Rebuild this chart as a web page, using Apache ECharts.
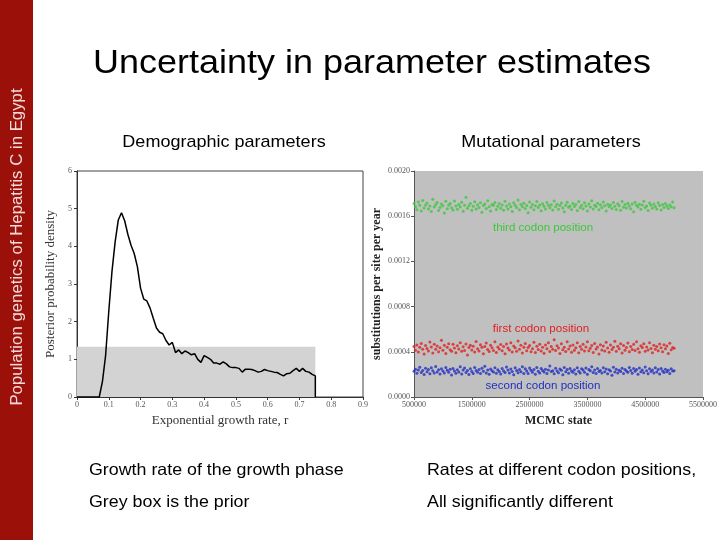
<!DOCTYPE html>
<html><head><meta charset="utf-8">
<script src="https://cdn.jsdelivr.net/npm/echarts@6/dist/echarts.min.js"></script>
<style>html,body{margin:0;padding:0;background:#fff}#c{width:720px;height:540px}</style>
</head><body><div id="c"></div>
<script>
// ---- Demographic parameters: posterior density of growth rate r ----
const growthRate = [0,0.02,0.04,0.06,0.07,0.08,0.09,0.10,0.11,0.12,0.13,0.14,0.15,0.16,0.17,0.18,0.19,0.20,0.21,0.22,0.23,0.24,0.25,0.26,0.27,0.28,0.29,0.295,0.30,0.31,0.32,0.33,0.34,0.35,0.36,0.37,0.38,0.39,0.40,0.41,0.42,0.43,0.44,0.45,0.46,0.47,0.48,0.49,0.50,0.51,0.52,0.53,0.54,0.55,0.56,0.57,0.58,0.59,0.60,0.61,0.62,0.63,0.64,0.65,0.66,0.67,0.68,0.69,0.70,0.71,0.72,0.73,0.74,0.75,0.75];
const posteriorDensity = [0,0,0,0,0,0.41,1.1,2.27,3.33,4.12,4.7,4.89,4.68,4.32,4.03,3.81,3.46,2.89,2.6,2.55,2.36,2.09,1.83,1.72,1.68,1.5,1.38,1.42,1.45,1.18,1.25,1.15,1.22,1.18,1.12,1.15,1.0,0.92,1.1,1.05,1.0,0.9,0.9,0.87,0.93,0.88,0.8,0.78,0.78,0.76,0.66,0.74,0.74,0.73,0.7,0.66,0.68,0.73,0.7,0.68,0.66,0.65,0.6,0.56,0.62,0.63,0.7,0.76,0.68,0.76,0.68,0.66,0.6,0.56,0];
const priorMaxR = 0.75;
const priorDensity = 1.3333;
const rTicks = ['0','0.1','0.2','0.3','0.4','0.5','0.6','0.7','0.8','0.9'];

// ---- Mutational parameters: MCMC traces (rates in units of 1e-6 subst/site/yr) ----
const mcmcState = [
500000,525000,550000,575000,600000,625000,650000,675000,
700000,725000,750000,775000,800000,825000,850000,875000,
900000,925000,950000,975000,1000000,1025000,1050000,1075000,
1100000,1125000,1150000,1175000,1200000,1225000,1250000,1275000,
1300000,1325000,1350000,1375000,1400000,1425000,1450000,1475000,
1500000,1525000,1550000,1575000,1600000,1625000,1650000,1675000,
1700000,1725000,1750000,1775000,1800000,1825000,1850000,1875000,
1900000,1925000,1950000,1975000,2000000,2025000,2050000,2075000,
2100000,2125000,2150000,2175000,2200000,2225000,2250000,2275000,
2300000,2325000,2350000,2375000,2400000,2425000,2450000,2475000,
2500000,2525000,2550000,2575000,2600000,2625000,2650000,2675000,
2700000,2725000,2750000,2775000,2800000,2825000,2850000,2875000,
2900000,2925000,2950000,2975000,3000000,3025000,3050000,3075000,
3100000,3125000,3150000,3175000,3200000,3225000,3250000,3275000,
3300000,3325000,3350000,3375000,3400000,3425000,3450000,3475000,
3500000,3525000,3550000,3575000,3600000,3625000,3650000,3675000,
3700000,3725000,3750000,3775000,3800000,3825000,3850000,3875000,
3900000,3925000,3950000,3975000,4000000,4025000,4050000,4075000,
4100000,4125000,4150000,4175000,4200000,4225000,4250000,4275000,
4300000,4325000,4350000,4375000,4400000,4425000,4450000,4475000,
4500000,4525000,4550000,4575000,4600000,4625000,4650000,4675000,
4700000,4725000,4750000,4775000,4800000,4825000,4850000,4875000,
4900000,4925000,4950000,4975000,5000000];
const thirdPos = [
1712,1683,1657,1725,1696,1645,1738,1672,1699,1716,1663,1690,1641,1750,1681,1702,1722,1651,1677,1709,1693,1628,1732,1666,1697,1713,1675,1654,1735,1690,
1661,1704,1682,1724,1644,1698,1768,1670,1692,1712,1652,1688,1728,1664,1701,1678,1719,1636,1694,1707,1668,1737,1683,1647,1704,1697,1722,1660,1688,1713,
1671,1700,1652,1733,1690,1664,1708,1684,1642,1719,1696,1678,1744,1658,1703,1684,1715,1669,1694,1631,1725,1680,1704,1657,1693,1731,1676,1700,1648,1711,
1688,1664,1721,1697,1675,1701,1654,1734,1683,1706,1661,1694,1716,1672,1639,1698,1724,1680,1691,1659,1712,1685,1703,1650,1730,1676,1696,1666,1718,1690,
1645,1708,1681,1736,1663,1697,1685,1715,1656,1701,1676,1725,1693,1647,1706,1683,1699,1669,1721,1688,1660,1711,1693,1652,1729,1679,1703,1672,1714,1690,
1667,1709,1640,1723,1696,1681,1706,1662,1700,1733,1676,1691,1651,1717,1697,1671,1708,1685,1664,1720,1694,1654,1703,1678,1712,1690,1668,1699,1684,1726,1675];
const firstPos = [
446,413,461,398,440,474,422,381,455,430,407,487,442,389,466,423,451,401,436,502,414,458,384,440,472,418,404,467,433,392,
453,424,481,405,444,411,468,372,437,459,417,450,399,492,427,408,463,440,383,446,477,421,402,457,435,411,489,393,442,424,
465,409,447,382,470,433,416,481,398,452,435,404,496,423,459,389,441,474,410,437,455,400,426,484,394,449,420,466,408,440,
388,460,426,479,403,447,422,506,411,454,434,385,472,418,441,402,488,425,452,397,461,414,436,481,391,448,423,467,406,442,
490,410,432,456,394,473,424,443,380,463,416,451,406,484,434,397,460,421,440,494,404,449,426,471,389,455,414,437,478,400,
447,421,466,412,489,427,395,454,438,472,404,442,417,480,430,392,458,423,448,409,470,435,400,462,426,451,386,476,418,439,431];
const secondPos = [
228,246,210,240,263,216,235,199,254,224,244,206,258,232,213,270,221,241,203,250,229,212,261,237,218,245,195,253,230,211,
242,222,267,204,238,256,217,234,199,251,226,208,262,235,219,244,207,254,228,273,213,240,201,248,232,222,259,211,241,225,
204,252,230,216,266,238,212,247,226,196,258,234,215,243,223,268,207,249,229,209,256,236,218,244,202,261,228,213,253,235,
222,245,208,240,274,225,232,205,254,229,215,248,236,198,262,223,243,211,252,230,218,241,204,259,228,212,250,238,219,256,
201,244,232,267,216,240,209,253,226,235,213,258,223,247,205,241,230,193,263,221,245,212,236,225,254,208,243,229,218,261,
235,211,252,228,244,202,257,223,240,215,266,232,206,249,226,238,213,259,221,243,203,253,230,216,245,224,236,209,250,229,233];
const rateTicks = ['0.0000','0.0004','0.0008','0.0012','0.0016','0.0020'];
const stateTicks = ['500000','1500000','2500000','3500000','4500000','5500000'];

function trace(vals){
  const out=[];
  for(let i=0;i<mcmcState.length && i<vals.length;i++) out.push([mcmcState[i], vals[i]*1e-6]);
  return out;
}

const serif = 'Liberation Serif';
const chart = echarts.init(document.getElementById('c'), null, {renderer:'canvas'});
function txt(x,y,s,size,color,align,sx,extra){
  return Object.assign({type:'text', x:x, y:y, scaleX:sx||1, style:{text:s, fill:color, font:size+'px "Liberation Sans"', align:align, verticalAlign:'middle'}}, extra||{});
}
chart.setOption({
  animation:false,
  backgroundColor:'#ffffff',
  grid:[
    {left:77, top:171, width:286, height:226, show:true, borderColor:'#444', borderWidth:1, backgroundColor:'transparent'},
    {left:414, top:171, width:289, height:226, show:true, borderWidth:0, backgroundColor:'#c0c0c0'}
  ],
  xAxis:[
    {gridIndex:0, type:'value', min:0, max:0.9, interval:0.1,
     name:'Exponential growth rate, r', nameLocation:'middle', nameGap:17,
     nameTextStyle:{fontFamily:serif, fontSize:13, color:'#333'},
     axisLine:{lineStyle:{color:'#333'}}, axisTick:{length:3, lineStyle:{color:'#333'}},
     axisLabel:{fontFamily:serif, fontSize:8, color:'#555', margin:4, formatter:(v)=>rTicks[Math.round(v*10)]},
     splitLine:{show:false}},
    {gridIndex:1, type:'value', min:500000, max:5500000, interval:1000000,
     name:'MCMC state', nameLocation:'middle', nameGap:18,
     nameTextStyle:{fontFamily:serif, fontSize:12, fontWeight:'bold', color:'#222'},
     axisLine:{lineStyle:{color:'#555'}}, axisTick:{length:3, lineStyle:{color:'#555'}},
     axisLabel:{fontFamily:serif, fontSize:8, color:'#555', margin:4, formatter:(v)=>stateTicks[Math.round((v-500000)/1000000)]},
     splitLine:{show:false}}
  ],
  yAxis:[
    {gridIndex:0, type:'value', min:0, max:6, interval:1,
     name:'Posterior probability density', nameLocation:'middle', nameGap:20,
     nameTextStyle:{fontFamily:serif, fontSize:13, color:'#333'},
     axisLine:{show:true, lineStyle:{color:'#333'}}, axisTick:{show:true, length:3, lineStyle:{color:'#333'}},
     axisLabel:{fontFamily:serif, fontSize:8, color:'#555', margin:5},
     splitLine:{show:false}},
    {gridIndex:1, type:'value', min:0, max:0.002, interval:0.0004,
     name:'substitutions per site per year', nameLocation:'middle', nameGap:31,
     nameTextStyle:{fontFamily:serif, fontSize:12, fontWeight:'bold', color:'#222'},
     axisLine:{show:true, lineStyle:{color:'#555'}}, axisTick:{show:true, length:3, lineStyle:{color:'#555'}},
     axisLabel:{fontFamily:serif, fontSize:8, color:'#555', margin:4, formatter:(v)=>rateTicks[Math.round(v/0.0004)]},
     splitLine:{show:false}}
  ],
  series:[
    {type:'line', xAxisIndex:0, yAxisIndex:0, showSymbol:false, symbol:'none',
     data:growthRate.map((r,i)=>[r,posteriorDensity[i]]),
     lineStyle:{color:'#000', width:1.5},
     markArea:{silent:true, itemStyle:{color:'#d3d3d3'}, data:[[{coord:[0,0]},{coord:[priorMaxR,priorDensity]}]]},
     z:3},
    {type:'scatter', name:'third codon position', xAxisIndex:1, yAxisIndex:1, data:trace(thirdPos), symbolSize:3, itemStyle:{color:'#3cc83c'}},
    {type:'scatter', name:'first codon position', xAxisIndex:1, yAxisIndex:1, data:trace(firstPos), symbolSize:3, itemStyle:{color:'#e02020'}},
    {type:'scatter', name:'second codon position', xAxisIndex:1, yAxisIndex:1, data:trace(secondPos), symbolSize:3, itemStyle:{color:'#2030c0'}}
  ],
  graphic:[
    {type:'rect', left:0, top:0, shape:{width:33, height:540}, style:{fill:'#9b1008'}},
    txt(17,247,'Population genetics of Hepatitis C in Egypt',16.8,'#f2dada','center',1,{rotation:Math.PI/2}),
    txt(372,64,'Uncertainty in parameter estimates',33,'#000','center',1.09),
    txt(224,142,'Demographic parameters',17,'#000','center',1.06),
    txt(551,142,'Mutational parameters',17,'#000','center',1.06),
    txt(89,470,'Growth rate of the growth phase',16.5,'#000','left',1.08),
    txt(89,502,'Grey box is the prior',16.5,'#000','left',1.08),
    txt(427,470,'Rates at different codon positions,',16.5,'#000','left',1.08),
    txt(427,502,'All significantly different',16.5,'#000','left',1.08),
    txt(543,228,'third codon position',11,'#3cc83c','center',1.05,{z:10}),
    txt(541,329,'first codon position',11,'#e02020','center',1.05,{z:10}),
    txt(543,386,'second codon position',11,'#2030c0','center',1.05,{z:10})
  ]
});
</script>
</body></html>
